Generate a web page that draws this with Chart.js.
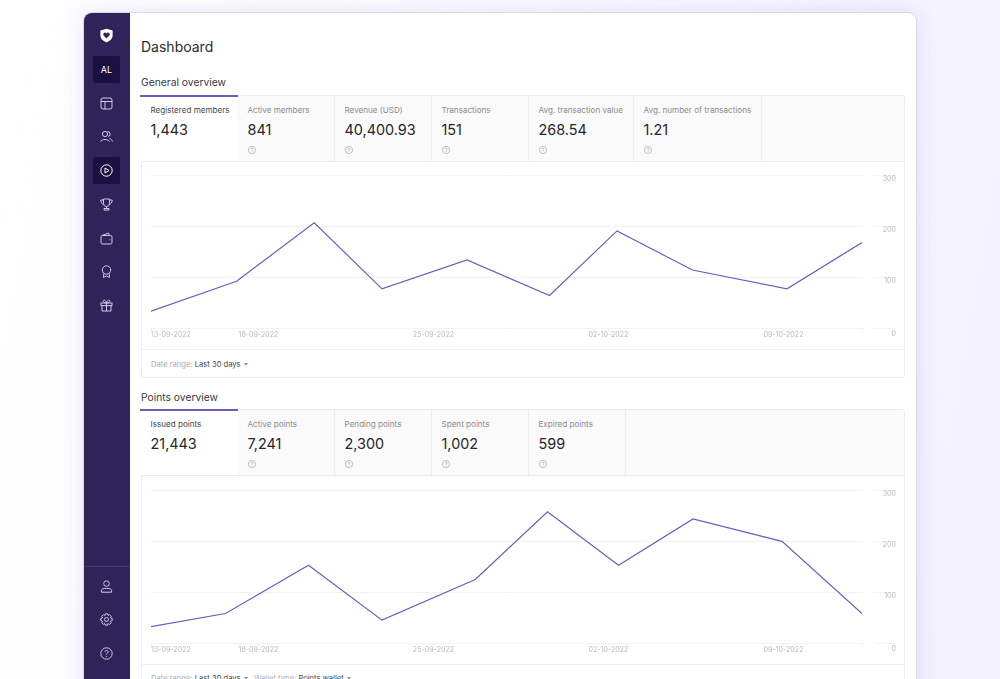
<!DOCTYPE html>
<html>
<head>
<meta charset="utf-8">
<title>Dashboard</title>
<script src="https://cdn.jsdelivr.net/npm/chart.js@4"></script>
<style>
  html, body { margin: 0; height: 100%; overflow: hidden; }
  body { width: 1000px; height: 679px; position: relative; font-family: Inter, sans-serif; color: #2b2b30;
         background: linear-gradient(100deg, #fff 0%, #fbfaff 45%, #f3f1fe 100%); }
  .abs { position: absolute; white-space: nowrap; }
  #card { position: absolute; left: 84px; top: 13px; width: 832px; height: 700px; background: #fff; border-radius: 8px;
          box-shadow: 0 0 0 1px #d9d7e4, 0 0 24px rgba(96,80,200,.16); overflow: hidden; }
  #side { position: absolute; left: 84px; top: 13px; width: 46px; height: 700px; background: #2f2459; border-radius: 8px 0 0 8px; }
  #side .rule { position: absolute; left: 0; right: 0; top: 553px; height: 1px; background: #43386e; }
  .slot { position: absolute; left: 93px; width: 27px; height: 27px; background: #1a1142; border-radius: 2px; }
  .icon { position: absolute; left: 100px; width: 13px; height: 13px; fill: none; stroke: #cfc9e6; stroke-width: 1; }
  .panel { position: absolute; left: 141px; width: 762px; background: #fff; border: 1px solid #ececee; border-radius: 3px; }
  .tabs { position: absolute; left: 0; top: 0; right: 0; height: 66px; box-sizing: border-box; background: #fafafa; border-bottom: 1px solid #ececee; }
  .tab { position: absolute; top: 0; height: 65px; box-sizing: border-box; border-right: 1px solid #ececee; }
  .tab.on { background: #fff; border-right: 0; }
  .tab.on::before { content: ''; position: absolute; left: -1px; right: 0; top: -1px; height: 1.5px; background: #6b5bbf; }
  .tab b { position: absolute; left: 9.5px; top: 7.5px; font: 400 8.1px/12px Inter, sans-serif; color: #8b8b90; white-space: nowrap; }
  .tab.on b { color: #47474c; }
  .tab i { position: absolute; left: 9.5px; top: 23.5px; font: 400 14.4px/20px Inter, sans-serif; color: #26262b; white-space: nowrap; }
  .tab svg { position: absolute; left: 9.5px; top: 49.5px; width: 8px; height: 8px; fill: none; stroke: #a9a9ad; stroke-width: .7; }
  .foot { position: absolute; font: 400 7.6px/12px Inter, sans-serif; color: #acacb0; white-space: nowrap; }
  .foot span { color: #47474c; }
  .foot em { display: inline-block; width: 0; height: 0; margin: 0 0 1px 3px; border: 2.5px solid transparent; border-top: 3px solid #99999d; border-bottom: 0; }
  .rule-h { position: absolute; left: 0; right: 0; height: 1px; background: #f0f0f2; }
  canvas { position: absolute; }
</style>
</head>
<body>
<div id="card"></div>
<div id="side"><div class="rule"></div></div>
<div class="slot" style="top:56px"></div>
<div class="slot" style="top:156.5px"></div>
<div class="abs" style="left:93px;width:27px;top:63px;text-align:center;font:400 9px/13px Inter,sans-serif;color:#fff">AL</div>

<svg class="icon" style="left:99px;top:28px;width:15px;height:15px;stroke:none" viewBox="0 0 15 15"><path fill="#fff" fill-rule="evenodd" d="M7.5 .8 L13.6 2.6 V7.6 C13.6 11 10.5 13.4 7.5 14.4 C4.5 13.4 1.4 11 1.4 7.6 V2.6 Z M7.5 10.6 L10.4 7.6 A1.7 1.7 0 0 0 7.5 5.4 A1.7 1.7 0 0 0 4.6 7.6 Z"/></svg>
<svg class="icon" style="top:96.5px" viewBox="0 0 13 13"><rect x="1" y="1" width="11" height="11" rx="2"/><path d="M1 4.5H12M5 4.5V12"/></svg>
<svg class="icon" style="top:130px" viewBox="0 0 13 13"><circle cx="5" cy="4" r="2.6"/><path d="M7.5 1.6A2.4 2.4 0 0 1 8 6.4M.6 11.6C1.4 8.8 8.6 8.8 9.4 11.6M9.6 8.4C10.8 8.8 12 10 12.4 11.6"/></svg>
<svg class="icon" style="top:163.5px;stroke:#fff" viewBox="0 0 13 13"><circle cx="6.5" cy="6.5" r="5.7"/><path d="M5 4V9L9 6.5Z"/></svg>
<svg class="icon" style="top:197.5px" viewBox="0 0 13 13"><path d="M3.5 1H9.5V5.5A3 3 0 0 1 3.5 5.5ZM3.5 2H.8C.8 4.6 2 6 4 6.4M9.5 2H12.2C12.2 4.6 11 6 9 6.4M6.5 8.5V10.5M4 12H9V10.5H4Z"/></svg>
<svg class="icon" style="top:231.5px" viewBox="0 0 13 13"><rect x="1" y="3.5" width="11" height="8.5" rx="1.5"/><path d="M2 3.5L8.5 1L9.5 3.5M9.5 7.8H10.5"/></svg>
<svg class="icon" style="top:264.5px" viewBox="0 0 13 13"><circle cx="6.5" cy="5" r="4.2"/><path d="M3.8 8.4L3.5 12.4L6.5 11L9.5 12.4L9.2 8.4"/></svg>
<svg class="icon" style="top:298.5px" viewBox="0 0 13 13"><rect x="1" y="4" width="11" height="2.6"/><path d="M2 6.6V12H11V6.6M6.5 4V12M6.5 4C4 4 2.6 3 3.4 1.6C4.4 .4 6 1.8 6.5 4C7 1.8 8.6 .4 9.6 1.6C10.4 3 9 4 6.5 4Z"/></svg>
<svg class="icon" style="top:579.5px" viewBox="0 0 13 13"><circle cx="6.5" cy="3.6" r="2.8"/><path d="M1.4 12.2V10.6C1.4 9 3 8.4 6.5 8.4S11.6 9 11.6 10.6V12.2H1.4Z"/></svg>
<svg class="icon" style="top:613px" viewBox="0 0 13 13"><circle cx="6.5" cy="6.5" r="2"/><path d="M5.4 .8H7.6L8 2.4L9.5 1.6L11.2 3.3L10.4 4.8L12.2 5.4V7.6L10.4 8.2L11.2 9.7L9.5 11.4L8 10.6L7.6 12.2H5.4L5 10.6L3.5 11.4L1.8 9.7L2.6 8.2L.8 7.6V5.4L2.6 4.8L1.8 3.3L3.5 1.6L5 2.4Z"/></svg>
<svg class="icon" style="top:646.5px" viewBox="0 0 13 13"><circle cx="6.5" cy="6.5" r="5.7"/><path d="M4.8 5C5 3 8.2 3 8.2 5C8.2 6.2 6.5 6.2 6.5 7.6M6.5 9V9.8"/></svg>

<div class="abs" style="left:141px;top:38px;font:400 14px/18px Inter,sans-serif;color:#2b2b30">Dashboard</div>
<div class="abs" style="left:141px;top:76px;font:400 10.3px/13px Inter,sans-serif;color:#3a3a3f">General overview</div>
<div class="abs" style="left:141px;top:391px;font:400 10.3px/13px Inter,sans-serif;color:#3a3a3f">Points overview</div>

<div class="panel" id="panelGeneral" style="top:95px;height:281px"></div>
<div class="panel" id="panelPoints" style="top:409px;height:300px"></div>

<canvas id="chartGeneral" style="left:141px;top:162px;width:764px;height:187px"></canvas>
<canvas id="chartPoints" style="left:141px;top:477px;width:764px;height:187px"></canvas>

<div class="foot" style="left:151px;top:358.5px">Date range: <span>Last 30 days</span><em></em></div>
<div class="foot" style="left:151px;top:672.5px">Date range: <span>Last 30 days</span><em></em></div>
<div class="foot" style="left:254px;top:672.5px">Wallet type: <span>Points wallet</span><em></em></div>

<script>
// Tab strips: label, value, right edge of the tab (page x)
const generalTabs = ['Registered members', 'Active members', 'Revenue (USD)', 'Transactions', 'Avg. transaction value', 'Avg. number of transactions'];
const generalTotals = ['1,443', '841', '40,400.93', '151', '268.54', '1.21'];
const generalEdges = [238, 335, 432, 529, 634, 762];
const pointsTabs = ['Issued points', 'Active points', 'Pending points', 'Spent points', 'Expired points'];
const pointsTotals = ['21,443', '7,241', '2,300', '1,002', '599'];
const pointsEdges = [238, 335, 432, 529, 626];

// Days since 13-09-2022 and the value on that day
const generalDays = [0.7, 4.12, 7.23, 9.94, 13.34, 16.64, 19.34, 22.36, 26.14, 29.14];
const generalValues = [33, 92, 207, 77, 134, 64, 191, 114, 77, 168];
const pointsDays = [0.7, 3.68, 7.0, 9.94, 13.67, 16.56, 19.4, 22.38, 25.94, 29.14];
const pointsValues = [32, 58, 153, 45, 125, 258, 153, 244, 200, 58];

const dateTickDays = [0.7, 5, 12, 19, 26, 29.14];
const dateTickLabels = ['13-09-2022', '18-09-2022', '25-09-2022', '02-10-2022', '09-10-2022', ''];
const valueTicks = [0, 100, 200, 300];

const HELP = '<svg viewBox="0 0 8 8"><circle cx="4" cy="4" r="3.6"/><path d="M2.9 3.1C3 1.9 5.1 1.9 5.1 3.1C5.1 3.9 4 3.9 4 4.8M4 5.5V6"/></svg>';

function buildTabs(panelId, labels, totals, edges) {
  const strip = document.createElement('div');
  strip.className = 'tabs';
  let left = 141;
  labels.forEach((label, i) => {
    const tab = document.createElement('div');
    tab.className = 'tab' + (i === 0 ? ' on' : '');
    tab.style.left = (left - 142) + 'px';
    tab.style.width = (edges[i] - left) + 'px';
    tab.innerHTML = `<b>${label}</b><i>${totals[i]}</i>${i === 0 ? '' : HELP}`;
    strip.appendChild(tab);
    left = edges[i];
  });
  document.getElementById(panelId).appendChild(strip);
}

function addFootRule(panelId, top) {
  const rule = document.createElement('div');
  rule.className = 'rule-h';
  rule.style.top = top + 'px';
  document.getElementById(panelId).appendChild(rule);
}

buildTabs('panelGeneral', generalTabs, generalTotals, generalEdges);
buildTabs('panelPoints', pointsTabs, pointsTotals, pointsEdges);
addFootRule('panelGeneral', 253);
addFootRule('panelPoints', 254);

// the 0 label sits a little lower than the others
const nudgeZeroLabel = {
  id: 'nudgeZeroLabel',
  beforeDraw(chart) {
    const scale = chart.scales.y;
    const items = scale.getLabelItems(chart.chartArea);
    const zero = items.find(it => it.label === '0');
    if (zero && !zero.nudged) {
      zero.options.translation[1] += 2.5;
      zero.nudged = true;
    }
  },
};

function drawChart(id, days, values) {
  new Chart(document.getElementById(id), {
    type: 'line',
    data: {
      datasets: [{
        data: days.map((d, i) => ({ x: d, y: values[i] })),
        borderColor: '#6c5cc0',
        borderWidth: 1.2,
        pointRadius: 0,
        tension: 0,
        fill: false,
      }],
    },
    plugins: [nudgeZeroLabel],
    options: {
      responsive: false,
      animation: false,
      layout: { padding: { left: 10, right: 9, top: 13.5, bottom: 0 } },
      plugins: { legend: { display: false }, tooltip: { enabled: false } },
      scales: {
        x: {
          type: 'linear',
          min: dateTickDays[0],
          max: dateTickDays[dateTickDays.length - 1],
          afterBuildTicks: scale => { scale.ticks = dateTickDays.map(value => ({ value })); },
          afterFit: scale => { scale.height = 21; },
          border: { display: false },
          grid: { drawOnChartArea: false, tickLength: 3, color: '#ececee' },
          ticks: {
            autoSkip: false,
            maxRotation: 0,
            align: 'inner',
            padding: 0,
            color: '#b9b9bd',
            font: { family: 'Inter', size: 7.1 },
            callback: (v, i) => dateTickLabels[i],
          },
        },
        y: {
          position: 'right',
          min: 0,
          max: 300,
          afterBuildTicks: scale => { scale.ticks = valueTicks.map(value => ({ value })); },
          // tick padding would otherwise be added above and below the plot
          afterFit: scale => { scale.width = 34; scale.paddingTop = 0; scale.paddingBottom = 0; },
          border: { display: false },
          grid: { color: '#f3f3f5', tickColor: '#f3f3f5', tickLength: 34, tickBorderDash: [0, 12, 22, 1000] },
          ticks: {
            mirror: true,
            padding: 34,
            labelOffset: 3.8,
            color: '#b9b9bd',
            font: { family: 'Inter', size: 7.1 },
          },
        },
      },
    },
  });
}

function sizeCanvas(id) {
  const c = document.getElementById(id);
  c.width = 764;
  c.height = 187;
}
sizeCanvas('chartGeneral');
sizeCanvas('chartPoints');
drawChart('chartGeneral', generalDays, generalValues);
drawChart('chartPoints', pointsDays, pointsValues);
</script>
</body>
</html>
